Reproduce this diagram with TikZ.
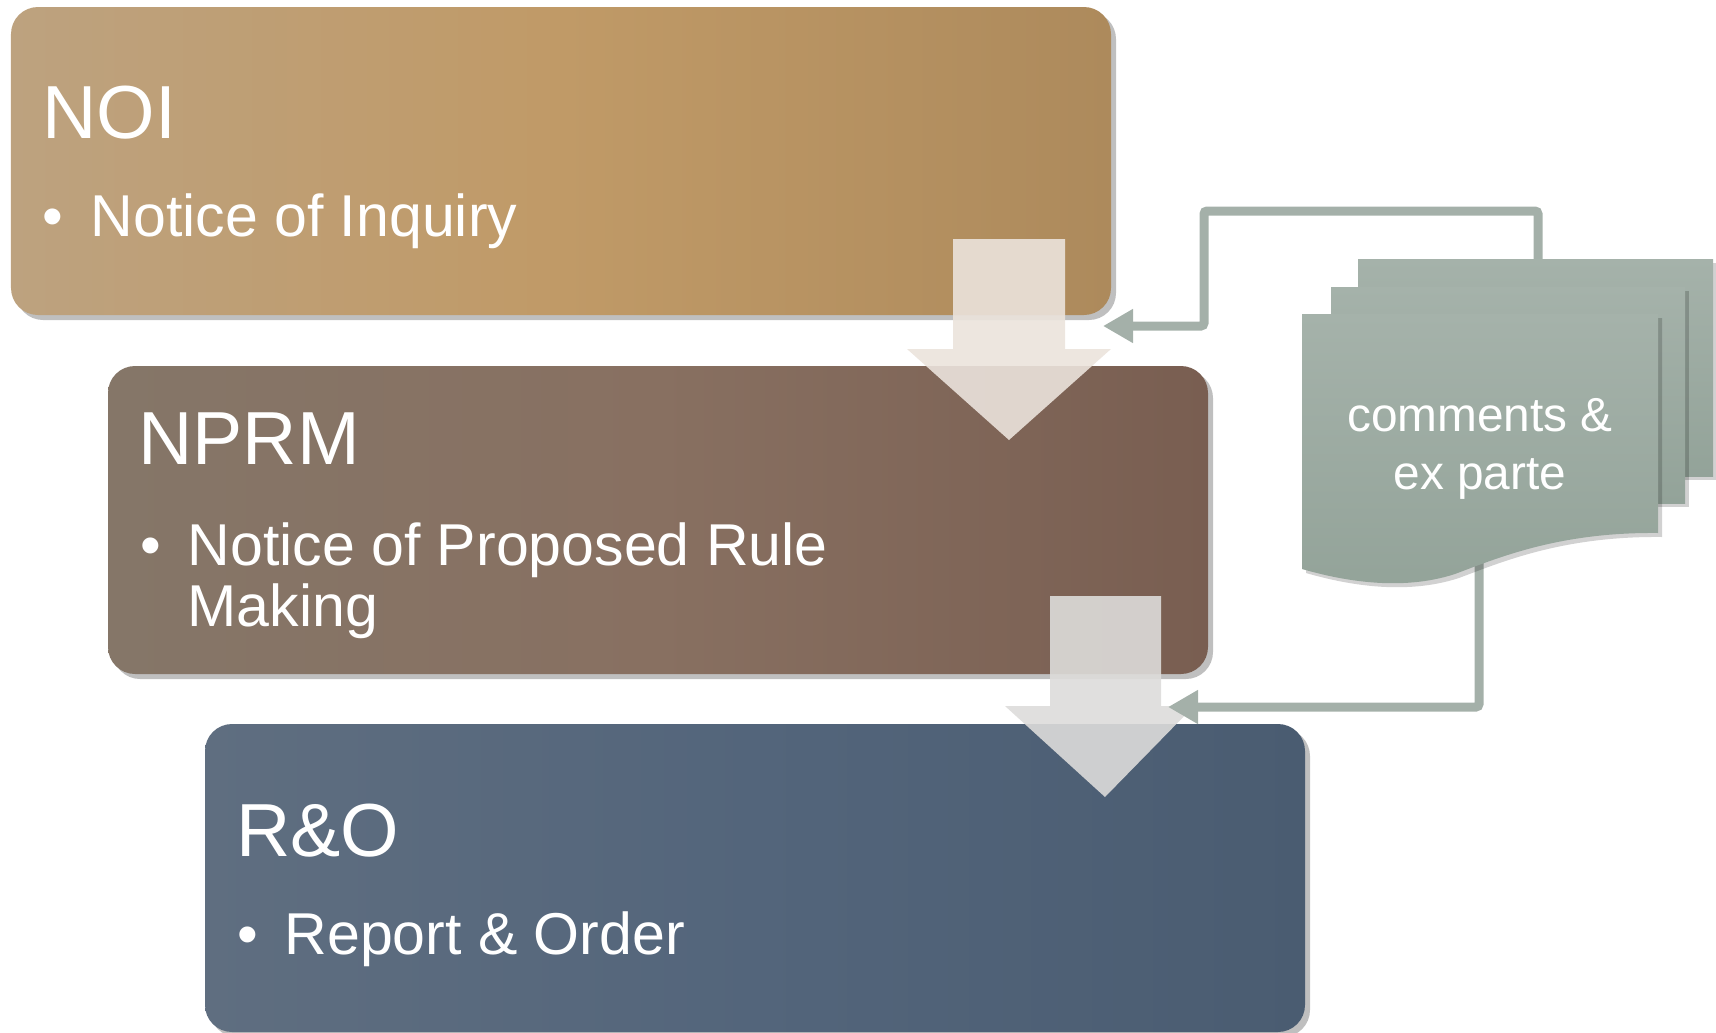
\documentclass[tikz,border=0pt]{standalone}
\usepackage{fontspec}
\setmainfont{Liberation Sans}
\usetikzlibrary{arrows.meta,shadows}
\definecolor{noileft}{HTML}{BDA27F}
\definecolor{noimid}{HTML}{C09A67}
\definecolor{noiright}{HTML}{AD8A5C}
\definecolor{nprmleft}{HTML}{857668}
\definecolor{nprmmid}{HTML}{887061}
\definecolor{nprmright}{HTML}{795E51}
\definecolor{roleft}{HTML}{5F6E80}
\definecolor{romid}{HTML}{53657B}
\definecolor{roright}{HTML}{4A5C71}
\definecolor{doctop}{HTML}{A5B2AA}
\definecolor{docbottom}{HTML}{93A399}
\definecolor{fbline}{HTML}{A4B0A9}
\tikzset{
    stage/.style={rounded corners=0.27cm, minimum width=11cm, minimum height=3.08cm, inner sep=0pt,
        drop shadow={shadow xshift=0.05cm, shadow yshift=-0.05cm, opacity=0.25, fill=black}},
    heading/.style={anchor=base west, inner sep=0pt, text=white, font=\fontsize{21.4}{25}\selectfont},
    entry/.style={anchor=base west, inner sep=0pt, text=white, font=\fontsize{16.8}{17.1}\selectfont},
    flowarrow/.style={opacity=0.9},
    docsheet/.style={top color=doctop, bottom color=docbottom,
        drop shadow={shadow xshift=0.04cm, shadow yshift=-0.04cm, opacity=0.18, fill=black}},
    doctext/.style={align=center, text=white, font=\fontsize{13.6}{16.4}\selectfont},
    feedback/.style={draw=fbline, line width=0.09cm, rounded corners=0.03cm,
        -{Triangle[length=0.3cm, width=0.32cm]}}
}
\newcommand{\bulletline}[1]{\begin{tabular}[t]{@{}l@{\hspace{0.27cm}}l@{}}\textbullet & #1\end{tabular}}
\begin{document}
\begin{tikzpicture}
    \useasboundingbox (0,0) rectangle (17.16,10.32);
    \node[stage, left color=noileft, right color=noiright, middle color=noimid] (noi) at (5.61,8.71) {};
    \node[stage, left color=nprmleft, right color=nprmright, middle color=nprmmid] (nprm) at (6.58,5.12) {};
    \node[stage, left color=roleft, right color=roright, middle color=romid] (ro) at (7.55,1.54) {};
    \node[heading] (noititle) at ([shift={(0.315,-1.32)}]noi.north west) {NOI};
    \node[entry] (noitext) at ([shift={(0.32,-2.30)}]noi.north west) {\bulletline{Notice of Inquiry}};
    \node[heading] (nprmtitle) at ([shift={(0.305,-0.99)}]nprm.north west) {NPRM};
    \node[entry] (nprmtext) at ([shift={(0.32,-2.00)}]nprm.north west) {\bulletline{Notice of Proposed Rule\\ & Making}};
    \node[heading] (rotitle) at ([shift={(0.315,-1.33)}]ro.north west) {R\&O};
    \node[entry] (rotext) at ([shift={(0.32,-2.31)}]ro.north west) {\bulletline{Report \& Order}};
    \fill[flowarrow, fill={rgb,255:red,235;green,227;blue,220}] (9.53,7.93) -- (10.65,7.93) -- (10.65,6.83) -- (11.11,6.83)
        -- (10.09,5.92) -- (9.07,6.83) -- (9.53,6.83) -- cycle;
    \fill[flowarrow, fill={rgb,255:red,221;green,220;blue,218}] (10.50,4.36) -- (11.61,4.36) -- (11.61,3.26) -- (11.94,3.26)
        -- (11.05,2.35) -- (10.05,3.26) -- (10.50,3.26) -- cycle;
    \coordinate (backdoc) at (15.38,7.60);
    \coordinate (frontdoc) at (14.79,4.80);
    \coordinate (noiin) at (11.03,7.06);
    \coordinate (roin) at (11.68,3.25);
    \draw[feedback] (backdoc) |- (12.04,8.21) |- (noiin);
    \draw[feedback] (frontdoc) |- (roin);
    \shade[docsheet] (13.58,5.56) rectangle (17.13,7.73);
    \shade[docsheet] (13.31,5.29) rectangle (16.85,7.45);
    \shade[docsheet] (13.02,7.18) -- (16.58,7.18) -- (16.58,4.99) .. controls (15.6,5.0) and (15.0,4.75) .. (14.55,4.58)
        .. controls (14.0,4.40) and (13.4,4.52) .. (13.02,4.63) -- cycle;
    \node[doctext] (docs) at (14.80,5.83) {comments \&\\ex parte};
\end{tikzpicture}
\end{document}
